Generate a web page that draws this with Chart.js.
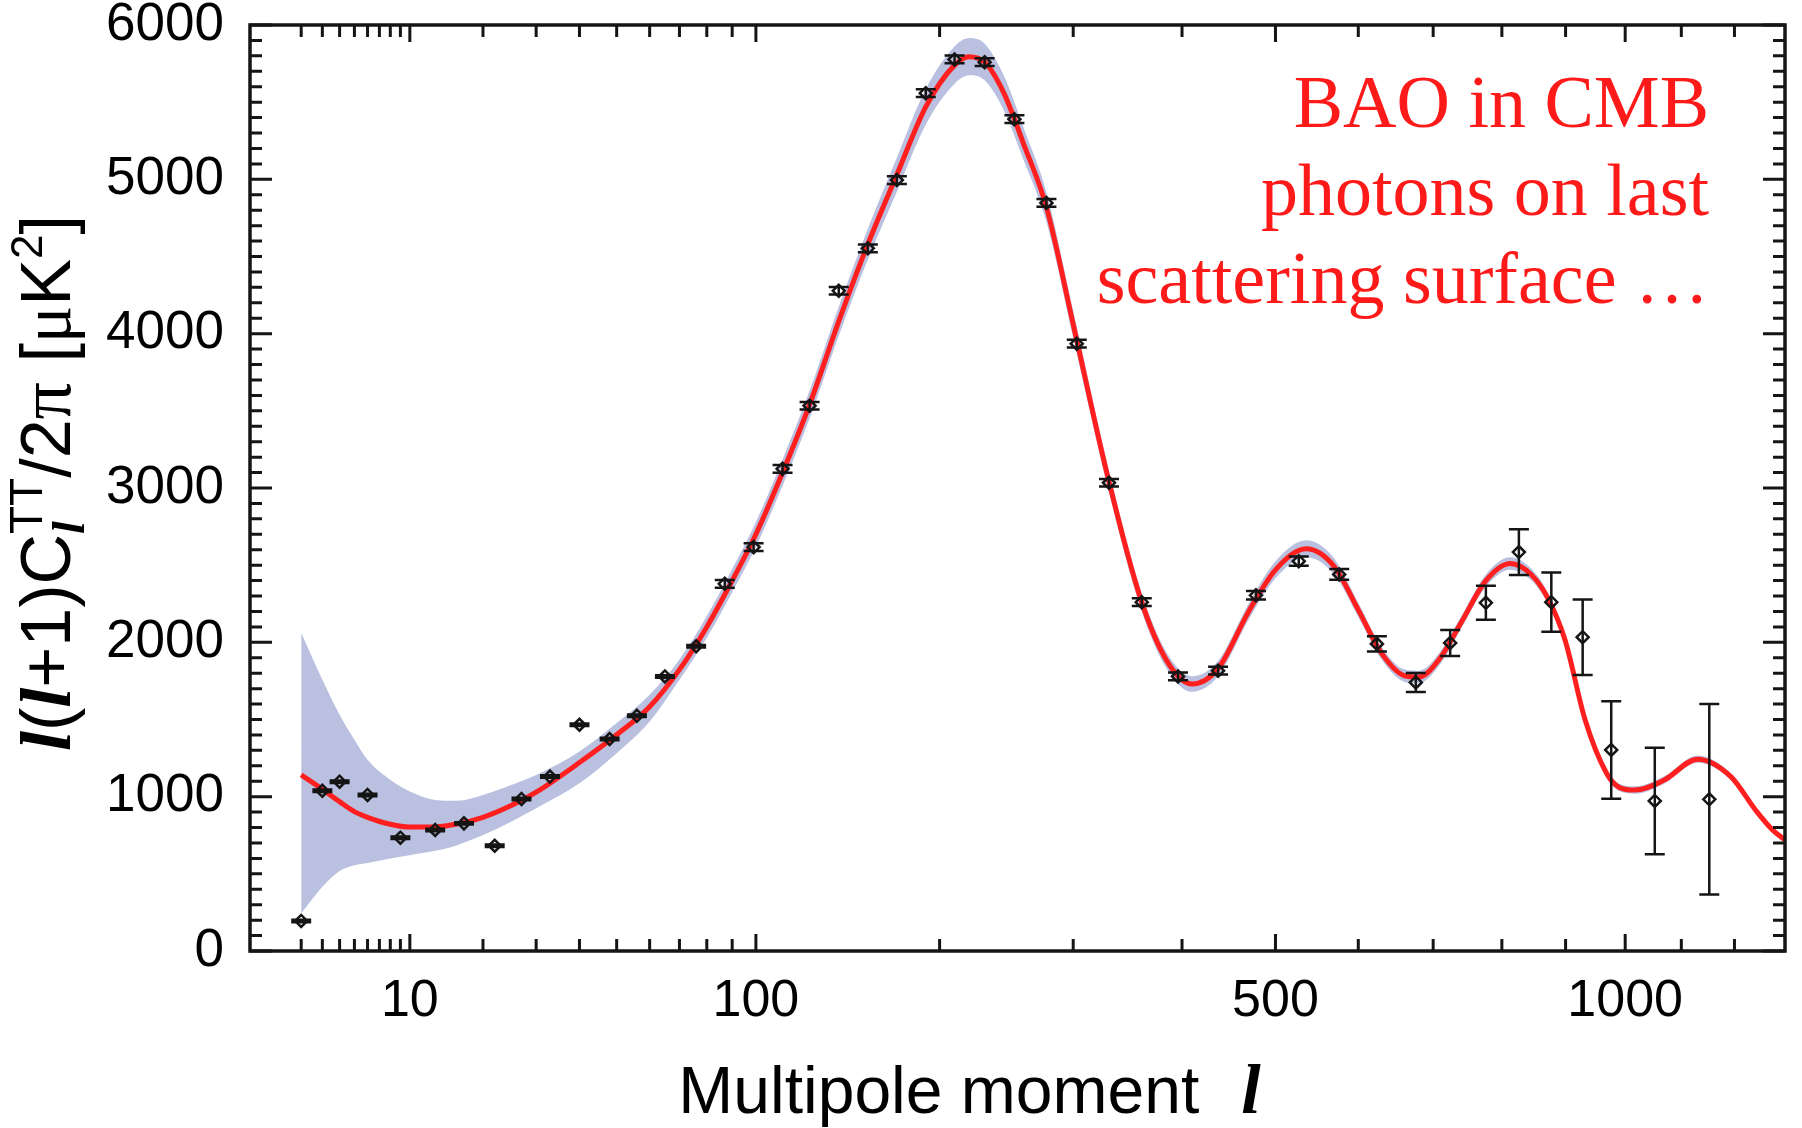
<!DOCTYPE html>
<html>
<head>
<meta charset="utf-8">
<script src="https://cdn.jsdelivr.net/npm/chart.js@4/dist/chart.umd.min.js"></script>
<style>
  html, body { margin: 0; padding: 0; background: #fff; }
  canvas { display: block; }
</style>
</head>
<body>
<canvas id="c" width="1802" height="1128" style="width:1802px;height:1128px"></canvas>
<script>
// ---------- data ----------
// binned measurements: multipole, D_l [uK^2], error
const PTS_L = [2,3,4,6,9,13,17,22,27,33,40,48,56,65,76,87,99,112,125,140,156,173,191,210,231,253,278,303,331,361,396,437,478,527,576,624,676,724,776,826,877,928,976,1052,1152];
const PTS_V = [195,1039,1097,1011,734,784,827,682,985,1130,1466,1373,1524,1779,1974,2379,2617,3124,3533,4278,4553,4995,5558,5777,5759,5390,4847,3935,3034,2260,1779,1816,2305,2526,2440,1990,1740,1996,2256,2585,2260,2033,1303,972,983];
const PTS_E = [8,8,8,8,8,8,8,8,8,8,8,8,8,8,8,25,25,25,25,25,25,25,25,25,25,25,25,25,25,25,25,25,28,30,35,50,62,84,110,148,192,244,316,345,617];

// best-fit model curve and its band
const FIT_L = [2,3,4,5,6,8,10,13,16,20,25,30,40,50,60,70,80,90,100,112,125,140,156,173,191,210,220,231,245,260,278,300,330,360,385,410,437,470,500,536,570,600,630,660,680,710,740,776,813,845,871,899,932,968,990,1017,1069,1130,1193,1241,1275,1300];
const FIT_V = [1141,1048,968,903,866,821,803,805,823,866,942,1029,1221,1401,1583,1823,2100,2400,2700,3100,3540,4080,4580,5030,5470,5740,5795,5760,5560,5230,4820,4060,3070,2280,1880,1730,1830,2200,2470,2606,2490,2210,1930,1785,1775,1900,2130,2400,2511,2440,2290,2017,1498,1152,1060,1043,1108,1243,1130,914,784,719];
const BAND_UP = [2061,1758,1531,1369,1239,1109,1033,979,974,1011,1076,1141,1292,1477,1660,1888,2170,2475,2780,3185,3630,4175,4680,5140,5585,5860,5915,5878,5672,5335,4917,4148,3142,2340,1932,1780,1880,2252,2525,2661,2542,2256,1972,1825,1815,1940,2170,2440,2551,2478,2325,2049,1526,1177,1084,1067,1132,1267,1152,934,804,739];
const BAND_LO = [243,416,519,556,571,600,621,649,686,751,838,925,1087,1282,1487,1758,2030,2325,2620,3015,3450,3985,4480,4920,5355,5620,5675,5642,5448,5125,4723,3972,2998,2220,1828,1680,1780,2148,2415,2551,2438,2164,1888,1745,1735,1860,2090,2360,2471,2402,2255,1985,1470,1127,1036,1019,1084,1219,1108,894,764,699];

// axes
const X_MIN = 0.5, X_MAX = 1300, X_POWER = 0.4;
const X_TICKS = [2,3,4,5,6,7,8,9,10,20,30,40,50,60,70,80,90,100,200,300,400,500,600,700,800,900,1000,1100,1200];
const X_LABELS = [10,100,500,1000];
const Y_MIN = 0, Y_MAX = 6000, Y_STEP = 1000, Y_MINOR = 100;

const NOTE_LINES = ['BAO in CMB', 'photons on last', 'scattering surface \u2026'];

// ---------- custom power-law x scale ----------
class PowerScale extends Chart.Scale {
  determineDataLimits() {
    this.min = this.options.min;
    this.max = this.options.max;
  }
  buildTicks() {
    return X_TICKS.map(v => ({ value: v, major: X_LABELS.includes(v) }));
  }
  getLabelForValue(v) { return String(v); }
  configure() {
    super.configure();
    this._s0 = Math.pow(this.min, X_POWER);
    this._sr = Math.pow(this.max, X_POWER) - this._s0;
  }
  getPixelForValue(v) {
    return this.getPixelForDecimal((Math.pow(v, X_POWER) - this._s0) / this._sr);
  }
  getValueForPixel(p) {
    return Math.pow(this.getDecimalForPixel(p) * this._sr + this._s0, 1 / X_POWER);
  }
}
PowerScale.id = 'power';
PowerScale.defaults = {};
Chart.register(PowerScale);

const SANS = '"Liberation Sans", Arial, Helvetica, sans-serif';
const SERIF = '"Liberation Serif", "Times New Roman", serif';

// ---------- plugins ----------
const errorBars = {
  id: 'errorBars',
  beforeDatasetDraw(chart, args) {
    if (args.index !== 0) return;
    const { ctx } = chart, xs = chart.scales.x, ys = chart.scales.y;
    ctx.save();
    ctx.strokeStyle = '#151515';
    ctx.lineWidth = 2.5;
    const cap = 10;
    PTS_L.forEach((l, i) => {
      const px = xs.getPixelForValue(l);
      const y1 = ys.getPixelForValue(PTS_V[i] + PTS_E[i]);
      const y2 = ys.getPixelForValue(PTS_V[i] - PTS_E[i]);
      ctx.beginPath();
      ctx.moveTo(px, y1); ctx.lineTo(px, y2);
      ctx.moveTo(px - cap, y1); ctx.lineTo(px + cap, y1);
      ctx.moveTo(px - cap, y2); ctx.lineTo(px + cap, y2);
      ctx.stroke();
    });
    ctx.restore();
  }
};

const frameTicks = {
  id: 'frameTicks',
  afterDraw(chart) {
    const { ctx, chartArea: a } = chart, xs = chart.scales.x, ys = chart.scales.y;
    ctx.save();
    ctx.strokeStyle = '#151515';
    ctx.lineWidth = 3;
    ctx.beginPath();
    X_TICKS.forEach(v => {
      const px = xs.getPixelForValue(v);
      const len = X_LABELS.includes(v) ? 17 : 12;
      ctx.moveTo(px, a.bottom); ctx.lineTo(px, a.bottom - len);
      ctx.moveTo(px, a.top); ctx.lineTo(px, a.top + len);
    });
    for (let v = Y_MIN; v <= Y_MAX; v += Y_MINOR) {
      const py = ys.getPixelForValue(v);
      const len = (v % Y_STEP === 0) ? 22 : 12;
      ctx.moveTo(a.left, py); ctx.lineTo(a.left + len, py);
      ctx.moveTo(a.right, py); ctx.lineTo(a.right - len, py);
    }
    ctx.stroke();
    ctx.lineWidth = 3.5;
    ctx.strokeRect(a.left, a.top, a.right - a.left, a.bottom - a.top);
    ctx.restore();
  }
};

function fontSans(s) { return s + 'px ' + SANS; }
function fontSerif(s) { return s + 'px ' + SERIF; }
function fontBI(s) { return 'italic bold ' + s + 'px ' + SERIF; }

const titles = {
  id: 'titles',
  afterDraw(chart) {
    const { ctx } = chart;
    ctx.save();
    ctx.fillStyle = '#000';
    ctx.textBaseline = 'alphabetic';
    ctx.textAlign = 'left';

    // ----- x title -----
    ctx.font = fontSans(66);
    const t1 = 'Multipole moment';
    const w1 = ctx.measureText(t1).width;
    ctx.font = fontBI(70);
    const w2 = ctx.measureText('l').width;
    const gap = 42;
    const xc = (chart.chartArea.left + chart.chartArea.right) / 2 - 48;
    let x0 = xc - (w1 + gap + w2) / 2;
    ctx.font = fontSans(66);
    ctx.fillText(t1, x0, 1113);
    ctx.font = fontBI(70);
    ctx.fillText('l', x0 + w1 + gap, 1113);

    // ----- y title (rotated) -----
    const segs = [
      ['l', fontBI(72), 0],
      ['(', fontSans(70), 0],
      ['l', fontBI(72), 0],
      ['+1)C', fontSans(70), 0],
      [['l', fontBI(46), 14], ['TT', fontSans(46), -28]],
      ['/2', fontSans(70), 0],
      ['\u03c0', fontSerif(74), 0],
      [' [', fontSans(70), 0],
      ['\u03bc', fontSerif(70), 0],
      ['K', fontSans(70), 0],
      ['2', fontSans(44), -28],
      [']', fontSans(70), 0]
    ];
    const widthOf = (s) => { ctx.font = s[1]; return ctx.measureText(s[0]).width; };
    let total = 0;
    const ws = segs.map(s => {
      const w = Array.isArray(s[0]) ? Math.max(...s.map(widthOf)) : widthOf(s);
      total += w; return w;
    });
    ctx.translate(70, 483);
    ctx.rotate(-Math.PI / 2);
    let x = -total / 2;
    segs.forEach((s, i) => {
      const parts = Array.isArray(s[0]) ? s : [s];
      parts.forEach(p => { ctx.font = p[1]; ctx.fillText(p[0], x, p[2]); });
      x += ws[i];
    });
    ctx.restore();

    // ----- red annotation -----
    ctx.save();
    ctx.fillStyle = '#ff1a1a';
    ctx.font = fontSerif(74);
    ctx.textAlign = 'right';
    ctx.textBaseline = 'alphabetic';
    NOTE_LINES.forEach((t, i) => ctx.fillText(t, 1709, 127 + i * 88));
    ctx.restore();
  }
};

// ---------- chart ----------
const xy = (L, V) => L.map((l, i) => ({ x: l, y: V[i] }));

new Chart(document.getElementById('c'), {
  type: 'line',
  data: {
    datasets: [
      {
        label: 'data', data: xy(PTS_L, PTS_V), showLine: false,
        pointStyle: 'rectRot', pointRadius: 6, pointBorderWidth: 2.5,
        pointBorderColor: '#151515', pointBackgroundColor: 'rgba(0,0,0,0)', order: 0
      },
      {
        label: 'fit', data: xy(FIT_L, FIT_V), borderColor: '#ff1f1f', borderWidth: 5,
        pointRadius: 0, cubicInterpolationMode: 'monotone', fill: false, order: 1
      },
      {
        label: 'band upper', data: xy(FIT_L, BAND_UP), borderWidth: 0, borderColor: 'rgba(0,0,0,0)',
        pointRadius: 0, cubicInterpolationMode: 'monotone', fill: '+1',
        backgroundColor: '#b9c0e0', order: 2
      },
      {
        label: 'band lower', data: xy(FIT_L, BAND_LO), borderWidth: 0, borderColor: 'rgba(0,0,0,0)',
        pointRadius: 0, cubicInterpolationMode: 'monotone', fill: false, order: 3
      }
    ]
  },
  options: {
    responsive: false,
    animation: false,
    layout: { padding: { left: 0, right: 17, top: 25, bottom: 0 } },
    plugins: { legend: { display: false }, tooltip: { enabled: false } },
    scales: {
      x: {
        type: 'power', position: 'bottom', min: X_MIN, max: X_MAX,
        grid: { display: false, drawTicks: false }, border: { display: false },
        ticks: {
          autoSkip: false, maxRotation: 0, minRotation: 0, padding: 19, color: '#000',
          font: { family: SANS, size: 52 },
          callback: (v) => X_LABELS.includes(v) ? String(v) : ''
        },
        afterFit(s) { s.height = 177; s.paddingLeft = 0; s.paddingRight = 0; }
      },
      y: {
        type: 'linear', position: 'left', min: Y_MIN, max: Y_MAX,
        grid: { display: false, drawTicks: false }, border: { display: false },
        ticks: {
          stepSize: Y_STEP, padding: 26, color: '#000', font: { family: SANS, size: 53 },
          callback: (v) => String(v)
        },
        afterFit(s) { s.width = 250; s.paddingTop = 0; s.paddingBottom = 0; }
      }
    }
  },
  plugins: [errorBars, frameTicks, titles]
});
</script>
</body>
</html>
